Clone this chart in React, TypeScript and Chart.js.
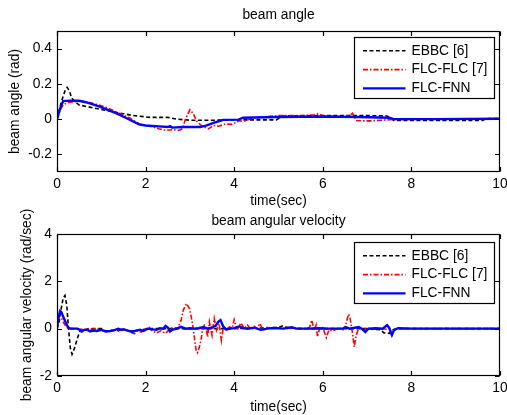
import React, { useEffect, useRef } from "react";
import { Chart, registerables } from "chart.js";

Chart.register(...registerables);

// ---------- data ----------
const seriesNames = ["EBBC [6]", "FLC-FLC [7]", "FLC-FNN"];

const xTickValues = [0, 2, 4, 6, 8, 10];
const angleTickValues = [-0.2, 0, 0.2, 0.4];
const angleTickLabels = ["-0.2", "0", "0.2", "0.4"];
const velTickValues = [-2, 0, 2, 4];
const velTickLabels = ["-2", "0", "2", "4"];

// beam angle (rad) vs time (sec)
const angleEBBC: [number, number][] = [
  [0, 0], [0.05, 0.05], [0.1, 0.1], [0.18, 0.16], [0.23, 0.18], [0.28, 0.16], [0.33, 0.12],
  [0.4, 0.1], [0.5, 0.08], [0.8, 0.065], [1.3, 0.04], [1.7, 0.021], [2.1, 0.01], [2.5, 0.01],
  [2.7, 0.0], [3.0, -0.006], [3.6, -0.006], [4.2, -0.004], [4.95, -0.004], [5.1, 0.018],
  [6.0, 0.02], [7.0, 0.02], [7.45, 0.018], [7.6, -0.008], [8.5, -0.008], [9.6, -0.008],
  [9.7, 0.003], [10, 0.003],
];
const angleFLC: [number, number][] = [
  [0, 0], [0.07, 0.05], [0.14, 0.083], [0.29, 0.096], [0.59, 0.102], [0.81, 0.09], [1.1, 0.068],
  [1.4, 0.034], [1.63, 0.008], [1.85, -0.026], [2.09, -0.04], [2.3, -0.055], [2.45, -0.064],
  [2.6, -0.06], [2.75, -0.064], [2.83, -0.055], [2.9, 0.0], [3.0, 0.053], [3.08, 0.03],
  [3.15, -0.01], [3.27, -0.04], [3.42, -0.055], [3.53, -0.036], [3.65, -0.04], [3.8, -0.028],
  [3.95, -0.03], [4.1, -0.011], [4.25, -0.01], [4.4, 0.005], [4.6, 0.011], [5.0, 0.02],
  [5.5, 0.02], [5.8, 0.025], [5.9, 0.03], [6.0, 0.02], [6.3, 0.012], [6.5, 0.012], [6.6, 0.02],
  [6.67, 0.034], [6.75, -0.008], [6.9, -0.01], [7.1, -0.01], [7.6, -0.002], [8.5, 0.0], [10, 0.003],
];
const angleFNN: [number, number][] = [
  [0, 0], [0.07, 0.06], [0.14, 0.102], [0.3, 0.105], [0.5, 0.104], [0.65, 0.096], [0.95, 0.072],
  [1.33, 0.034], [1.55, 0.008], [1.85, -0.03], [2.0, -0.036], [2.3, -0.041], [2.5, -0.045],
  [2.55, -0.04], [2.6, -0.048], [2.85, -0.045], [3.23, -0.045], [3.38, -0.036], [3.55, -0.02],
  [3.68, -0.01], [3.75, -0.004], [4.1, -0.003], [4.2, 0.008], [5.0, 0.012], [6.0, 0.015],
  [6.8, 0.012], [7.5, 0.008], [7.6, 0.0], [8.5, 0.0], [10, 0.002],
];

// beam angular velocity (rad/sec) vs time (sec)
const velEBBC: [number, number][] = [
  [0, 0], [0.05, 0.3], [0.1, 0.9], [0.14, 1.3], [0.18, 1.4], [0.22, 1.0], [0.26, 0.0],
  [0.3, -0.8], [0.34, -1.08], [0.4, -0.8], [0.46, -0.4], [0.52, -0.1], [0.6, -0.05], [0.8, 0.0],
  [1.0, 0.0], [1.1, -0.1], [1.3, -0.08], [1.5, -0.05], [1.7, -0.1], [1.9, -0.05], [2.1, 0.0],
  [2.5, 0.0], [3.0, 0.0], [4.0, 0.0], [5.0, 0.05], [5.1, 0.12], [5.2, 0.05], [5.5, 0.0],
  [7.0, 0.0], [7.3, -0.05], [7.38, -0.18], [7.5, -0.2], [7.58, -0.05], [7.7, 0.0], [10, 0.0],
];
const velFLC: [number, number][] = [
  [0, 0], [0.03, 0.35], [0.06, 0.57], [0.1, 0.45], [0.15, 0.25], [0.2, 0.1], [0.25, 0.0],
  [0.5, 0.0], [0.6, -0.05], [0.7, 0.0], [0.8, -0.03], [0.9, 0.0], [1.0, -0.06], [1.1, -0.1],
  [1.2, -0.08], [1.3, -0.05], [1.4, -0.12], [1.5, -0.05], [1.6, -0.1], [1.7, -0.18], [1.75, -0.22],
  [1.8, -0.1], [1.9, -0.15], [2.0, 0.0], [2.08, 0.05], [2.15, -0.1], [2.25, -0.18], [2.35, -0.08],
  [2.45, -0.2], [2.55, 0.0], [2.65, 0.05], [2.72, 0.0], [2.8, 0.35], [2.85, 0.78], [2.92, 1.06],
  [2.99, 0.85], [3.03, 0.5], [3.07, 0.08], [3.11, -0.5], [3.14, -0.91], [3.17, -1.02], [3.21, -0.8],
  [3.25, -0.49], [3.29, 0.0], [3.33, 0.15], [3.36, 0.1], [3.4, -0.35], [3.44, 0.29], [3.5, -0.28],
  [3.55, 0.43], [3.6, -0.07], [3.66, 0.21], [3.71, -0.49], [3.75, 0.0], [3.82, 0.0], [3.9, 0.07],
  [3.95, 0.0], [4.0, 0.38], [4.04, 0.1], [4.08, 0.0], [4.15, 0.24], [4.23, 0.0], [4.3, 0.15],
  [4.38, -0.05], [4.45, 0.1], [4.52, 0.0], [4.58, 0.22], [4.65, -0.06], [4.75, 0.05], [4.85, 0.0],
  [4.95, 0.05], [5.1, 0.0], [5.3, 0.02], [5.6, 0.0], [5.7, 0.05], [5.75, 0.36], [5.81, -0.06],
  [5.85, 0.15], [5.88, -0.35], [5.93, 0.04], [6.0, 0.05], [6.08, -0.38], [6.14, -0.05],
  [6.23, -0.1], [6.34, 0.03], [6.45, -0.06], [6.5, 0.04], [6.58, 0.61], [6.61, 0.5], [6.66, -0.05],
  [6.71, -0.77], [6.75, -0.31], [6.81, 0.03], [6.92, -0.06], [6.99, 0.03], [7.1, -0.03],
  [7.3, 0.0], [7.6, -0.05], [7.7, 0.0], [8.5, 0.0], [10, 0.0],
];
const velFNN: [number, number][] = [
  [0, 0], [0.03, 0.45], [0.07, 0.75], [0.1, 0.7], [0.14, 0.5], [0.2, 0.25], [0.25, 0.05],
  [0.3, 0.0], [0.45, 0.0], [0.52, -0.05], [0.56, -0.12], [0.62, -0.05], [0.68, -0.04],
  [0.75, -0.12], [0.82, -0.08], [0.9, -0.1], [1.0, -0.05], [1.1, -0.12], [1.2, -0.1], [1.3, -0.06],
  [1.38, 0.0], [1.45, -0.04], [1.5, -0.02], [1.6, -0.08], [1.7, -0.14], [1.78, -0.08],
  [1.88, -0.05], [1.95, -0.1], [2.05, 0.0], [2.15, -0.03], [2.25, -0.05], [2.32, 0.02], [2.4, 0.0],
  [2.45, 0.12], [2.5, 0.05], [2.55, -0.12], [2.6, -0.05], [2.7, 0.0], [2.8, 0.08], [2.9, 0.0],
  [3.0, 0.02], [3.1, 0.0], [3.2, 0.02], [3.3, 0.07], [3.4, 0.0], [3.5, 0.05], [3.58, 0.12],
  [3.64, 0.29], [3.69, 0.36], [3.75, 0.1], [3.82, -0.04], [3.9, 0.0], [4.0, 0.02], [4.12, 0.1],
  [4.2, 0.02], [4.3, 0.0], [4.45, 0.04], [4.6, -0.05], [4.75, 0.0], [4.9, 0.03], [5.1, 0.0],
  [5.3, 0.06], [5.4, 0.0], [5.7, 0.0], [5.9, 0.02], [6.1, 0.0], [6.45, 0.0], [6.52, 0.07],
  [6.6, 0.0], [6.81, 0.07], [6.88, 0.0], [6.96, -0.14], [7.03, 0.0], [7.2, 0.02], [7.35, 0.0],
  [7.45, 0.15], [7.5, 0.03], [7.56, -0.27], [7.61, -0.05], [7.7, 0.02], [8.0, 0.0], [9.0, 0.0],
  [10, 0.0],
];

// ---------- styling ----------
const FONT_FAMILY = "'Liberation Sans', Arial, sans-serif";
const FONT_SIZE = 13.8;

const lineStyles = [
  { color: "#000000", width: 1.6, dash: [4, 2.5] },
  { color: "#ff0000", width: 1.6, dash: [5, 2, 1.5, 2] },
  { color: "#0000ff", width: 2.4, dash: [] as number[] },
];

const framePlugin = {
  id: "matlabFrame",
  afterDatasetsDraw(chart: any, _args: any, opts: any) {
    const { ctx, chartArea: a, scales } = chart;
    const L = Math.round(a.left) + 0.5;
    const R = Math.round(a.right) - 0.5;
    const T = Math.round(a.top) + 0.5;
    const B = Math.round(a.bottom) - 0.5;
    ctx.save();
    ctx.setLineDash([]);
    ctx.strokeStyle = "#000";
    ctx.lineWidth = 1.2;
    ctx.strokeRect(L, T, R - L, B - T);
    const tl = 4.5;
    ctx.beginPath();
    for (const t of scales.x.ticks) {
      const px = Math.round(scales.x.getPixelForValue(t.value)) + 0.5;
      ctx.moveTo(px, B);
      ctx.lineTo(px, B - tl);
      ctx.moveTo(px, T);
      ctx.lineTo(px, T + tl);
    }
    for (const t of scales.y.ticks) {
      const py = Math.round(scales.y.getPixelForValue(t.value)) + 0.5;
      ctx.moveTo(L, py);
      ctx.lineTo(L + tl, py);
      ctx.moveTo(R, py);
      ctx.lineTo(R - tl, py);
    }
    ctx.stroke();

    // legend box
    const bw = 140;
    const bh = 61;
    const bx = Math.round(a.right - 6 - bw) + 0.5;
    const by = Math.round(a.top + opts.legendOffset) + 0.5;
    ctx.fillStyle = "#fff";
    ctx.fillRect(bx, by, bw, bh);
    ctx.strokeRect(bx, by, bw, bh);
    ctx.font = `${FONT_SIZE}px ${FONT_FAMILY}`;
    chart.data.datasets.forEach((ds: any, i: number) => {
      const y = by + 13.3 + i * 18.8;
      ctx.strokeStyle = ds.borderColor;
      ctx.lineWidth = ds.borderWidth;
      ctx.setLineDash(ds.borderDash || []);
      ctx.beginPath();
      ctx.moveTo(bx + 8.5, y);
      ctx.lineTo(bx + 51, y);
      ctx.stroke();
      ctx.setLineDash([]);
      ctx.fillStyle = "#000";
      ctx.textAlign = "left";
      ctx.textBaseline = "middle";
      ctx.fillText(ds.label, bx + 57, y);
    });

    // axes title
    ctx.fillStyle = "#000";
    ctx.textAlign = "center";
    ctx.textBaseline = "middle";
    ctx.fillText(opts.title, (a.left + a.right) / 2, opts.titleY);
    ctx.restore();
  },
};

function makeConfig(
  series: [number, number][][],
  yMin: number,
  yMax: number,
  yTicks: number[],
  yLabels: string[],
  yTitle: string,
  yTitlePad: number,
  title: string,
  titleY: number,
  legendOffset: number,
  padTop: number,
  padBottom: number,
  xAxisHeight: number,
  xTickPad: number
): any {
  const font = { family: FONT_FAMILY, size: FONT_SIZE };
  return {
    type: "line",
    data: {
      datasets: series.map((s, i) => ({
        label: seriesNames[i],
        data: s.map(([x, y]) => ({ x, y })),
        borderColor: lineStyles[i].color,
        borderWidth: lineStyles[i].width,
        borderDash: lineStyles[i].dash,
        pointRadius: 0,
        tension: 0,
        fill: false,
        order: 3 - i,
      })),
    },
    options: {
      animation: false,
      responsive: false,
      maintainAspectRatio: false,
      events: [],
      layout: { padding: { top: padTop, right: 7, left: 0, bottom: padBottom } },
      plugins: {
        legend: { display: false },
        tooltip: { enabled: false },
        title: { display: false },
        matlabFrame: { title, titleY, legendOffset },
      },
      scales: {
        x: {
          type: "linear",
          min: 0,
          max: 10,
          afterBuildTicks: (s: any) => {
            s.ticks = xTickValues.map((v) => ({ value: v }));
          },
          afterFit: (s: any) => {
            s.height = xAxisHeight;
            s.paddingLeft = 0;
            s.paddingRight = 0;
          },
          grid: { display: false, drawTicks: false },
          border: { display: false },
          ticks: {
            color: "#000",
            font,
            padding: xTickPad,
            maxRotation: 0,
            autoSkip: false,
            callback: (v: number) => String(v),
          },
          title: { display: true, text: "time(sec)", color: "#000", font, padding: 0 },
        },
        y: {
          type: "linear",
          min: yMin,
          max: yMax,
          afterBuildTicks: (s: any) => {
            s.ticks = yTicks.map((v) => ({ value: v }));
          },
          afterFit: (s: any) => {
            s.width = 57;
            s.paddingTop = 0;
            s.paddingBottom = 0;
          },
          grid: { display: false, drawTicks: false },
          border: { display: false },
          ticks: {
            color: "#000",
            font,
            padding: 5,
            autoSkip: false,
            callback: (v: number) => {
              const idx = yTicks.findIndex((t) => Math.abs(t - v) < 1e-9);
              return idx >= 0 ? yLabels[idx] : "";
            },
          },
          title: {
            display: true,
            text: yTitle,
            color: "#000",
            font,
            padding: { top: yTitlePad, bottom: 0 },
          },
        },
      },
    },
    plugins: [framePlugin],
  };
}

export default function App() {
  const ref1 = useRef<HTMLCanvasElement>(null);
  const ref2 = useRef<HTMLCanvasElement>(null);

  useEffect(() => {
    const c1 = new Chart(
      ref1.current as HTMLCanvasElement,
      makeConfig(
        [angleEBBC, angleFLC, angleFNN],
        -0.3, 0.5, angleTickValues, angleTickLabels,
        "beam angle (rad)", 6.7,
        "beam angle", 15.5, 6.3,
        31, 205.2, 37.8, 4
      )
    );
    const c2 = new Chart(
      ref2.current as HTMLCanvasElement,
      makeConfig(
        [velEBBC, velFLC, velFNN],
        -2, 4, velTickValues, velTickLabels,
        "beam angular velocity (rad/sec)", 19.2,
        "beam angular velocity", 221.5, 7.7,
        234, 0, 39, 3.5
      )
    );
    return () => {
      c1.destroy();
      c2.destroy();
    };
  }, []);

  return (
    <div style={{ position: "fixed", left: 0, top: 0, width: 507, height: 415, background: "#fff" }}>
      <canvas ref={ref1} width={507} height={415} style={{ position: "absolute", left: 0, top: 0 }} />
      <canvas ref={ref2} width={507} height={415} style={{ position: "absolute", left: 0, top: 0 }} />
    </div>
  );
}
